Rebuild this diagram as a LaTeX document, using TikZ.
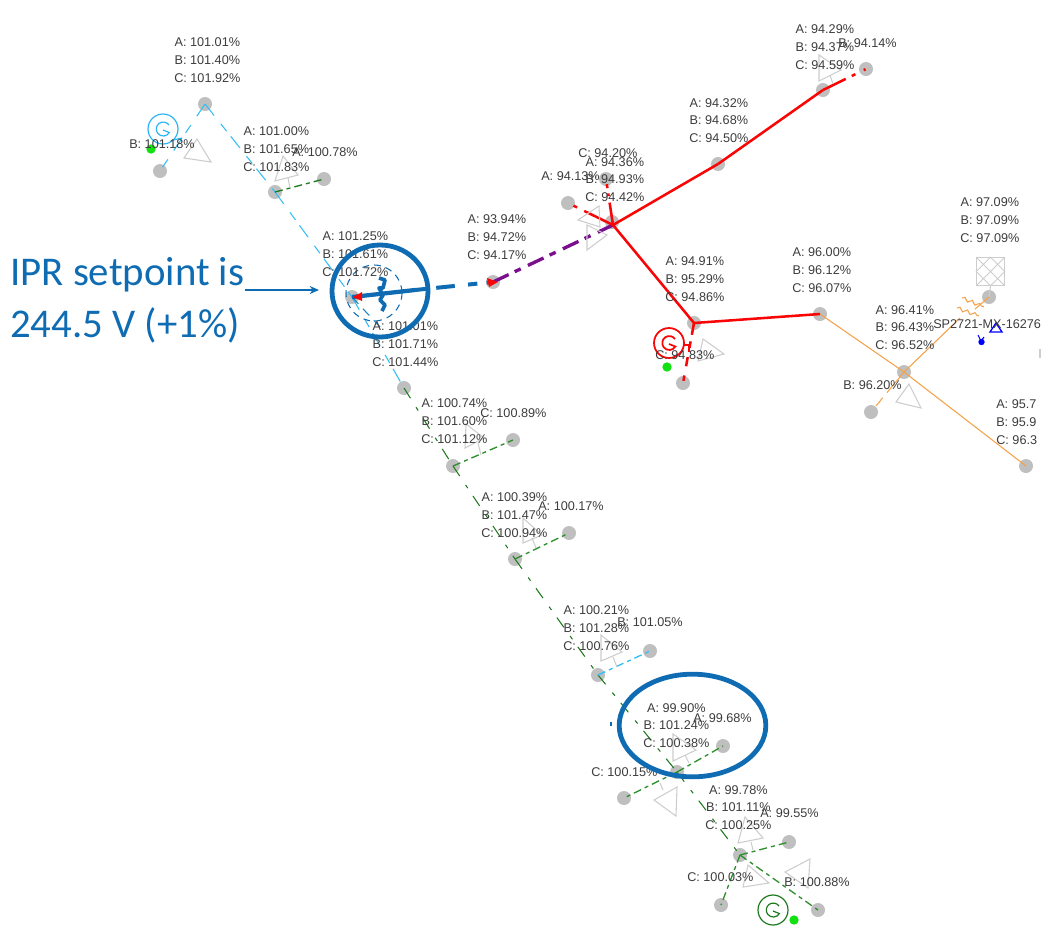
\documentclass[tikz,border=0pt]{standalone}
\usepackage{fontspec}
\setmainfont{Liberation Sans}
\newfontfamily\annofont{Carlito}
\usetikzlibrary{shapes.geometric,decorations.pathmorphing,arrows.meta}
\definecolor{busgrey}{HTML}{BFBFBF}
\definecolor{trigrey}{HTML}{CDCDCD}
\definecolor{labelgrey}{HTML}{3C3C3C}
\definecolor{cyanline}{HTML}{35BDF5}
\definecolor{greenline}{HTML}{2F8F2F}
\definecolor{darkgreenline}{HTML}{1E7A1E}
\definecolor{redline}{HTML}{FA0505}
\definecolor{purpleline}{HTML}{7A0E8C}
\definecolor{orangeline}{HTML}{F5A24A}
\definecolor{annoblue}{HTML}{0F6CB3}
\definecolor{genblue}{HTML}{2BB5F2}
\definecolor{dotgreen}{HTML}{11E011}
\tikzset{
  bus/.style={circle,fill=busgrey,draw=none,minimum size=10.5pt,inner sep=0pt},
  lab/.style={font=\fontsize{9.5}{13.4}\selectfont,text=labelgrey,align=center,anchor=west,inner sep=0pt},
  tri/.style={draw=trigrey,line width=.8pt,line join=miter},
  stem/.style={draw=trigrey,line width=.8pt},
  cyanwire/.style={draw=cyanline,line width=.8pt,dash pattern=on 11pt off 8pt on 7pt off 5pt},
  greenwire/.style={draw=darkgreenline,line width=.8pt,dash pattern=on 9pt off 8pt on 3pt off 7pt},
  stubwire/.style={draw=greenline,line width=1pt,dash pattern=on 6pt off 3pt on 3pt off 3pt},
  redwire/.style={draw=redline,line width=1.9pt},
  orangewire/.style={draw=orangeline,line width=.8pt},
  ring/.style={ellipse,draw=annoblue,line width=3.6pt,inner sep=0pt},
  gensym/.pic={
    \draw[pic actions] (0,0) circle[radius=15];
    \draw[pic actions] (6,-4) arc[start angle=-35,end angle=-330,radius=7] -- (0,1);
  },
  dot/.style={circle,fill=dotgreen,draw=none,minimum size=7pt,inner sep=0pt}
}
\begin{document}
\begin{tikzpicture}[x=.75pt,y=-.75pt]
\useasboundingbox (0,0) rectangle (1041,926);
% buses
\node[bus] (b1) at (205,104) {};
\node[bus] (g1) at (160,171) {};
\node[bus] (b2) at (275,192) {};
\node[bus] (b2s) at (324,179) {};
\node[bus] (b3) at (352,297) {};
\node[bus] (b4) at (404,388) {};
\node[bus] (b5) at (453,466) {};
\node[bus] (b5s) at (513,440) {};
\node[bus] (b6) at (515,559) {};
\node[bus] (b6s) at (569,533) {};
\node[bus] (b7) at (598,675) {};
\node[bus] (b7s) at (650,651) {};
\node[bus] (b8) at (677,772) {};
\node[bus] (b8a) at (723,746) {};
\node[bus] (b8c) at (624,798) {};
\node[bus] (b9) at (740,855) {};
\node[bus] (b9a) at (789,842) {};
\node[bus] (b9c) at (721,905) {};
\node[bus] (b9b) at (818,910) {};
\node[bus] (b10) at (493,282) {};
\node[bus] (b11) at (612,222) {};
\node[bus] (b12) at (718,164) {};
\node[bus] (b13) at (823,90) {};
\node[bus] (b14) at (866,69) {};
\node[bus] (b15) at (606,179) {};
\node[bus] (b16) at (568,203) {};
\node[bus] (b17) at (694,323) {};
\node[bus] (b18) at (683,383) {};
\node[bus] (b19) at (820,314) {};
\node[bus] (b20) at (904,372) {};
\node[bus] (b21) at (871,412) {};
\node[bus] (b22) at (989,297) {};
\node[bus] (b23) at (1026,466) {};
\coordinate (j) at (613,225);
\coordinate (reg) at (415,290);
\coordinate (xfa) at (960,318);
\coordinate (xfb) at (975,309);
% wires
\draw[cyanwire] (b1.center) -- (g1.center);
\draw[cyanwire] (b1.center) -- (b2.center);
\draw[cyanwire] (b2.center) -- (b3.center);
\draw[cyanwire] (b3.center) -- (b4.center);
\draw[draw=annoblue!70!cyanline,line width=.8pt,dash pattern=on 7pt off 5pt] (b3.center) -- ++(28,30);
\draw[stubwire,draw=darkgreenline] (b2.center) -- (b2s.center);
\draw[greenwire] (b4.center) -- (b5.center);
\draw[greenwire] (b5.center) -- (b6.center);
\draw[greenwire] (b6.center) -- (b7.center);
\draw[greenwire] (b7.center) -- (b8.center);
\draw[greenwire] (b8.center) -- (b9.center);
\draw[stubwire] (b5.center) -- (b5s.center);
\draw[stubwire] (b6.center) -- (b6s.center);
\draw[stubwire,draw=cyanline] (b7.center) -- (b7s.center);
\draw[stubwire] (b8.center) -- (b8a.center);
\draw[stubwire] (b8.center) -- (b8c.center);
\draw[stubwire] (b9.center) -- (b9a.center);
\draw[stubwire] (b9.center) -- (b9c.center);
\draw[stubwire] (b9.center) -- (b9b.center);
\draw[draw=annoblue,line width=3.2pt] (b3.center) -- (reg);
\draw[draw=annoblue,line width=3pt,dash pattern=on 10pt off 6pt on 14pt off 10pt on 7pt off 7pt] (reg) -- (b10.center);
\draw[draw=purpleline,line width=2.5pt,dash pattern=on 13pt off 5pt on 5pt off 6pt] (b10.center) -- (j);
\draw[redwire] (j) -- (b12.center);
\draw[redwire] (b12.center) -- (b13.center);
\draw[redwire,dash pattern=on 19pt off 5pt on 3pt off 7pt on 1.5pt off 9pt] (b13.center) -- (b14.center);
\draw[redwire,dash pattern=on 17pt off 5pt on 2pt off 4pt on 3pt off 9pt] (j) -- (b15.center);
\draw[redwire,dash pattern=on 24pt off 6pt on 3pt off 5pt on 2pt off 9pt] (j) -- (b16.center);
\draw[redwire] (j) -- (b17.center);
\draw[redwire,dash pattern=on 9pt off 5pt on 5pt off 7pt on 7pt off 7pt on 4pt off 20pt] (b17.center) -- (b18.center);
\draw[redwire] (b17.center) -- (b19.center);
\draw[orangewire] (b19.center) -- (b20.center);
\draw[orangewire] (b20.center) -- (b23.center);
\draw[orangewire] (b20.center) -- (xfa);
\draw[orangewire,dash pattern=on 20pt off 5pt on 8pt off 30pt] (b20.center) -- (b21.center);
\draw[orangewire] (b22.center) -- (xfb);
% transformer coil
\draw[orangewire,decorate,decoration={snake,segment length=6pt,amplitude=1.3pt}] (962,298) -- (984,307);
\draw[orangewire,decorate,decoration={snake,segment length=6pt,amplitude=1.3pt}] (957,308) -- (979,316);
% triangles
\draw[tri] (197,139) -- (184,158) -- (211,162) -- cycle;
\draw[tri] (283,156) -- (275,181) -- (298,175) -- cycle;
\draw[stem] (288,178) -- (290,188);
\draw[tri] (466,424) -- (465,448) -- (484,438) -- cycle;
\draw[stem] (478,443) -- (481,455);
\draw[tri] (523,518) -- (523,543) -- (542,535) -- cycle;
\draw[stem] (532,538) -- (536,548);
\draw[tri] (601,635) -- (601,661) -- (622,652) -- cycle;
\draw[stem] (613,657) -- (617,667);
\draw[tri] (673,734) -- (673,761) -- (696,750) -- cycle;
\draw[stem] (685,755) -- (689,763);
\draw[tri] (677,787) -- (654,800) -- (676,816) -- cycle;
\draw[stem] (660,783) -- (663,790);
\draw[tri] (745,817) -- (738,843) -- (763,838) -- cycle;
\draw[stem] (751,842) -- (753,850);
\draw[tri] (748,865) -- (743,887) -- (769,883) -- cycle;
\draw[tri] (810,859) -- (785,872) -- (808,888) -- cycle;
\draw[tri] (819,55) -- (819,81) -- (841,70) -- cycle;
\draw[stem] (830,75) -- (833,84);
\draw[tri] (599,206) -- (578,220) -- (600,227) -- cycle;
\draw[tri] (587,250) -- (587,225) -- (607,235) -- cycle;
\draw[tri] (703,339) -- (724,354) -- (698,361) -- cycle;
\draw[tri] (909,384) -- (896,402) -- (921,408) -- cycle;
% capacitor bank square
\node[draw=trigrey,line width=.9pt,minimum size=20.5pt,inner sep=0pt] (sq) at (990.5,271.5) {};
\draw[trigrey,line width=.6pt] (sq.north west) -- (sq.south east) (sq.north east) -- (sq.south west)
  (sq.north) -- (sq.east) -- (sq.south) -- (sq.west) -- cycle;
\draw[stem] (sq.south) -- (b22.center);
% generators
\pic[draw=genblue,line width=.9pt] at (163,129) {gensym};
\draw[draw=genblue,line width=.9pt] (173,140) -- (182,138);
\pic[draw=redline,line width=1.3pt] at (669,343) {gensym};
\draw[redwire,line width=1.3pt] (683,345) -- (690,345) (689,345) -- (689,352);
\pic[draw=darkgreenline,line width=.9pt] at (773,910) {gensym};
\node[dot] (d1) at (151,149) {};
\node[dot] (d2) at (667,367) {};
\node[dot] (d3) at (794,920) {};
% regulator glyph
\draw[draw=annoblue,line width=.8pt,dash pattern=on 5pt off 4pt] (374,293) circle[radius=28];
\draw[draw=annoblue,line width=2.8pt,line join=round] (379,278) -- (385,280) -- (383,288) -- (379,288) -- (383,295) -- (380,300) -- (385,305) -- (382,311);
\fill[redline] (353,297) -- (362,292) -- (362,301) -- cycle;
\fill[redline] (498,282) -- (487,278) -- (489,287) -- cycle;
\draw[draw=annoblue,line width=1pt] (611,722) -- (611,726);
% blue load
\draw[draw=blue,line width=1pt] (996,323) -- (990,332) -- (1002,332) -- cycle;
\fill[blue] (981.5,342) circle[radius=3.2];
\draw[draw=blue,line width=.8pt] (978,335) -- (981,341) -- (984,337);
\draw[draw=trigrey,line width=.9pt] (1040,349) -- (1040,358);
% labels
\node[lab] (l1) at (174,60) {A: 101.01\%\\B: 101.40\%\\C: 101.92\%};
\node[lab] (l2) at (129,144) {B: 101.18\%};
\node[lab] (l3) at (243,149) {A: 101.00\%\\B: 101.65\%\\C: 101.83\%};
\node[lab] (l4) at (292,152) {A: 100.78\%};
\node[lab] (l5) at (322,254) {A: 101.25\%\\B: 101.61\%\\C: 101.72\%};
\node[lab] (l6) at (372,344) {A: 101.01\%\\B: 101.71\%\\C: 101.44\%};
\node[lab] (l7) at (467,237) {A: 93.94\%\\B: 94.72\%\\C: 94.17\%};
\node[lab] (l8) at (689,120.5) {A: 94.32\%\\B: 94.68\%\\C: 94.50\%};
\node[lab] (l9) at (795,47) {A: 94.29\%\\B: 94.37\%\\C: 94.59\%};
\node[lab] (l10) at (838,43) {B: 94.14\%};
\node[lab] (l11) at (578,153) {C: 94.20\%};
\node[lab] (l12) at (585,179.5) {A: 94.36\%\\B: 94.93\%\\C: 94.42\%};
\node[lab] (l13) at (541,176) {A: 94.13\%};
\node[lab] (l14) at (665,279) {A: 94.91\%\\B: 95.29\%\\C: 94.86\%};
\node[lab] (l15) at (655,355) {C: 94.83\%};
\node[lab] (l16) at (792,270) {A: 96.00\%\\B: 96.12\%\\C: 96.07\%};
\node[lab] (l17) at (875,327.5) {A: 96.41\%\\B: 96.43\%\\C: 96.52\%};
\node[lab] (l18) at (843,385) {B: 96.20\%};
\node[lab] (l19) at (960,220) {A: 97.09\%\\B: 97.09\%\\C: 97.09\%};
\node[lab] (l20) at (933,324) {SP2721-MX-16276};
\node[lab,align=left] (l21) at (996,422) {A: 95.7\\B: 95.9\\C: 96.3};
\node[lab] (l22) at (421,421) {A: 100.74\%\\B: 101.60\%\\C: 101.12\%};
\node[lab] (l23) at (480,413) {C: 100.89\%};
\node[lab] (l24) at (481,515) {A: 100.39\%\\B: 101.47\%\\C: 100.94\%};
\node[lab] (l25) at (538,506) {A: 100.17\%};
\node[lab] (l26) at (563,628) {A: 100.21\%\\B: 101.28\%\\C: 100.76\%};
\node[lab] (l27) at (617,622) {B: 101.05\%};
\node[lab] (l28) at (643,725.5) {A: 99.90\%\\B: 101.24\%\\C: 100.38\%};
\node[lab] (l29) at (693,718) {A: 99.68\%};
\node[lab] (l30) at (591,772) {C: 100.15\%};
\node[lab] (l31) at (705,807.5) {A: 99.78\%\\B: 101.11\%\\C: 100.25\%};
\node[lab] (l32) at (760,813) {A: 99.55\%};
\node[lab] (l33) at (687,877) {C: 100.03\%};
\node[lab] (l34) at (784,882) {B: 100.88\%};
% annotation
\node[ring,minimum width=72pt,minimum height=69pt] (r1) at (380,291) {};
\node[ring,minimum width=110pt,minimum height=77pt] (r2) at (692.5,725.5) {};
\node[font=\annofont\fontsize{30.6}{39}\selectfont,text=annoblue,align=left,anchor=west,inner sep=0pt] (ipr) at (10,300) {IPR setpoint is\\244.5 V (+1\%)};
\coordinate (ia) at (245,290);
\coordinate (ib) at (319,290);
\draw[draw=annoblue,line width=1.1pt,-{Stealth[length=7pt,width=6pt]}] (ia) -- (ib);
\end{tikzpicture}
\end{document}
